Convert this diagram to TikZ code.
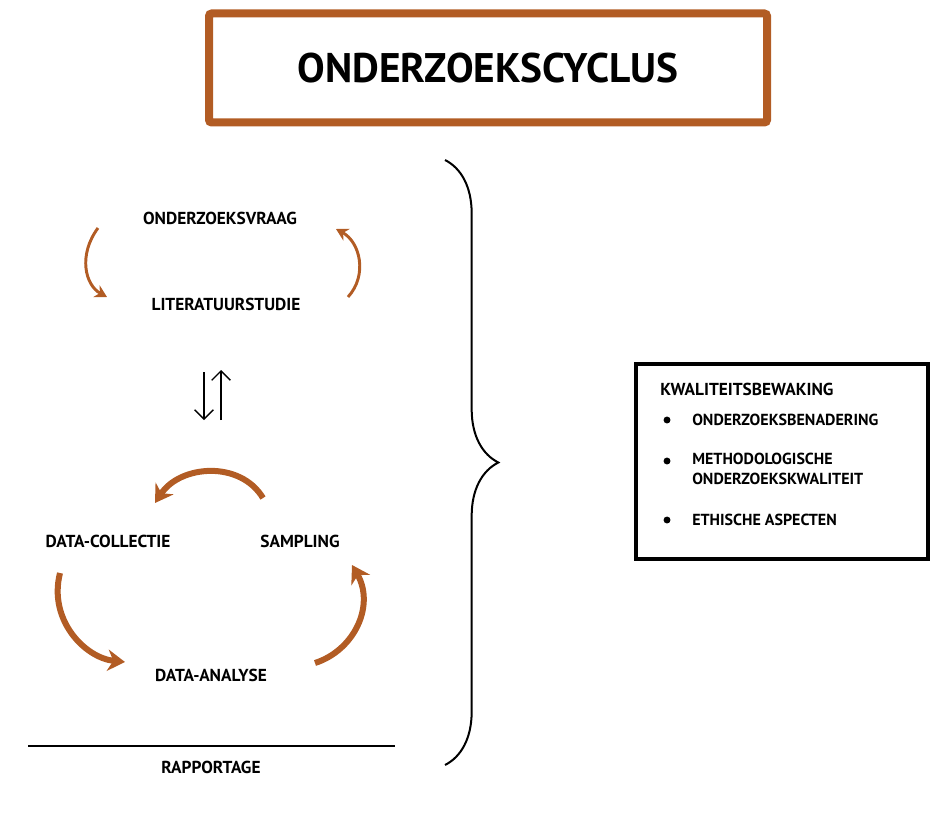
\documentclass[tikz,border=0pt]{standalone}
\usepackage{fontspec}
\setmainfont{PT Sans}
\usetikzlibrary{arrows.meta,decorations.pathreplacing}
\definecolor{brn}{RGB}{178,92,36}
\tikzset{lbl/.style={font=\bfseries\fontsize{13}{15}\selectfont,inner sep=0pt},
 thin arr/.style={brn,line width=2.2pt,-{Stealth[length=9pt,width=10pt]}},
 thick arr/.style={brn,line width=4.5pt,-{Stealth[length=13pt,width=16pt]}}}
\begin{document}
\begin{tikzpicture}[x=0.75pt,y=-0.75pt]
\useasboundingbox (0,0) rectangle (945,838);
\node[draw=brn,line width=6pt,rounded corners=2pt,minimum width=558pt*0.75,minimum height=109pt*0.75,font=\bfseries\fontsize{31}{36}\selectfont] (title) at (488,68) {ONDERZOEKSCYCLUS};
\node[lbl] (vraag) at (220,218) {ONDERZOEKSVRAAG};
\node[lbl] (lit) at (226,304) {LITERATUURSTUDIE};
\node[lbl] (dc) at (108,541) {DATA-COLLECTIE};
\node[lbl] (samp) at (300,541) {SAMPLING};
\node[lbl] (da) at (211,675) {DATA-ANALYSE};
\node[lbl] (rap) at (211,767) {RAPPORTAGE};
\coordinate (l1) at (28,746); \coordinate (l2) at (395,746);
\draw[line width=1.2pt] (l1) -- (l2);
\coordinate (a1) at (204,372); \coordinate (a2) at (204,420);
\coordinate (b1) at (221,420); \coordinate (b2) at (221,370);
\draw[line width=1pt,-{Straight Barb[length=7pt]}] (a1) -- (a2);
\draw[line width=1pt,-{Straight Barb[length=7pt]}] (b1) -- (b2);
\draw[thin arr] (98,228) .. controls (78,255) and (85,285) .. (107,297);
\draw[thin arr] (348,297) .. controls (368,275) and (360,242) .. (336,229);
\draw[thick arr] (263,498) .. controls (240,460) and (180,465) .. (155,503);
\draw[thick arr] (60,573) .. controls (48,620) and (85,658) .. (125,662);
\draw[thick arr] (315,663) .. controls (355,650) and (375,605) .. (352,565);
\draw[line width=1.5pt,decorate,decoration={brace,amplitude=40pt,aspect=0.5}] (445,160) -- (445,765);
\node[draw,line width=2.5pt,minimum width=292pt*0.75,minimum height=195pt*0.75,inner sep=0pt] (box) at (782,461.5) {};
\node[lbl,anchor=west] (kw) at (660,389) {KWALITEITSBEWAKING};
\begin{scope}[font=\bfseries\fontsize{12}{14}\selectfont]
\node[anchor=west,inner sep=0pt] (i1) at (692,420) {ONDERZOEKSBENADERING};
\node[anchor=north west,inner sep=0pt,align=left] (i2) at (692,453) {METHODOLOGISCHE\\[1pt]ONDERZOEKSKWALITEIT};
\node[anchor=west,inner sep=0pt] (i3) at (692,520) {ETHISCHE ASPECTEN};
\foreach \y in {420,461,520} \fill (667,\y) circle (2.6pt);
\end{scope}
\end{tikzpicture}
\end{document}
